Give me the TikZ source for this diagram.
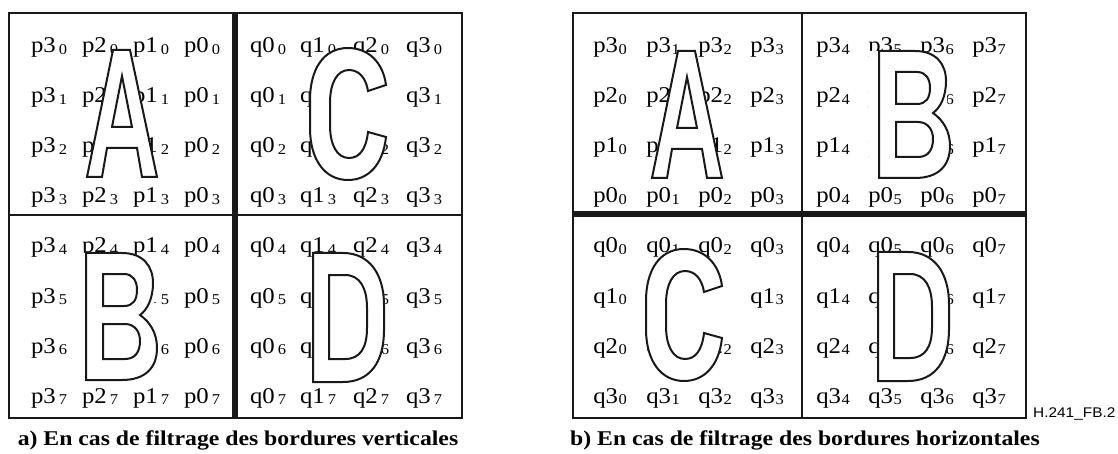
\documentclass[tikz,border=0pt]{standalone}
\usepackage{fontspec}
\setmainfont{Liberation Serif}
\newfontfamily\labfont[FakeStretch=1.1]{Liberation Serif}
\newfontfamily\capfont[FakeStretch=1.13]{Liberation Serif}
\newfontfamily\idfont[FakeStretch=1.1]{Liberation Sans}
\newcommand\pq[3]{#1\kern#3\raisebox{-1.5pt}{\fontsize{15}{15}\selectfont#2}}
\tikzset{
  lab/.style={inner sep=0pt, anchor=base, font=\labfont\fontsize{22.5}{24}\selectfont},
  captext/.style={inner sep=0pt, anchor=base, font=\capfont\bfseries\fontsize{21}{23}\selectfont},
  gridline/.style={line width=2.2pt, draw=black!90},
  thickdiv/.style={line width=6pt, draw=black!90},
  letter/.style={draw=black!90, line width=2pt, even odd rule, line join=miter},
  hull/.style={fill=white},
  pics/letA/.style={code={
    \fill[hull] (113,50) -- (130,50) -- (157,177) -- (87,177) -- cycle;
    \path[letter] (113,50) -- (130,50) -- (157,177) -- (142,177) -- (137,148) -- (107,148) -- (102,177) -- (87,177) -- cycle
      (122,76) -- (112,127) -- (132,127) -- cycle;
  }},
  pics/letB/.style={code={
    \fill[hull] (76,253) -- (122,253) .. controls (143,253) and (153,266) .. (153,283)
      -- (157,348)
      .. controls (157,368) and (145,380) .. (122,380) -- (76,380) -- cycle;
    \path[letter] (86,253) -- (122,253) .. controls (143,253) and (153,266) .. (153,283)
      .. controls (153,299) and (147,310) .. (140,315)
      .. controls (150,322) and (157,333) .. (157,348)
      .. controls (157,368) and (145,380) .. (122,380) -- (86,380) -- cycle
      (103,274) -- (124,274) .. controls (133,274) and (137,281) .. (137,290)
      .. controls (137,300) and (133,306) .. (124,306) -- (103,306) -- cycle
      (103,324) -- (125,324) .. controls (135,324) and (140,332) .. (140,341)
      .. controls (140,352) and (135,359) .. (125,359) -- (103,359) -- cycle;
  }},
  pics/letC/.style={code={
    \fill[hull] (386,85) .. controls (383,62) and (368,48) .. (348,48)
      .. controls (323,48) and (310,70) .. (310,100) -- (310,128)
      .. controls (310,160) and (325,180) .. (348,180)
      .. controls (368,180) and (383,165) .. (386,137) -- (398,137) -- (398,85) -- cycle;
    \path[letter] (386,85) .. controls (383,62) and (368,48) .. (348,48)
      .. controls (323,48) and (310,70) .. (310,100) -- (310,128)
      .. controls (310,160) and (325,180) .. (348,180)
      .. controls (368,180) and (383,165) .. (386,137) -- (368,132)
      .. controls (366,150) and (359,158) .. (349,158)
      .. controls (337,158) and (330,145) .. (330,125) -- (330,103)
      .. controls (330,83) and (337,70) .. (349,70)
      .. controls (359,70) and (366,78) .. (368,91) -- cycle;
  }},
  pics/letD/.style={code={
    \fill[hull] (313,253) -- (343,253) .. controls (370,253) and (384,275) .. (384,305) -- (384,330)
      .. controls (384,362) and (370,382) .. (343,382) -- (313,382) -- cycle;
    \path[letter] (313,253) -- (343,253) .. controls (370,253) and (384,275) .. (384,305) -- (384,330)
      .. controls (384,362) and (370,382) .. (343,382) -- (313,382) -- cycle
      (329,275) -- (345,275) .. controls (360,275) and (367,288) .. (367,308) -- (367,328)
      .. controls (367,348) and (360,359) .. (345,359) -- (329,359) -- cycle;
  }},
}
\begin{document}
\begin{tikzpicture}[x=1pt,y=-1pt]
\useasboundingbox (0,0) rectangle (1118,454);
\fill[white] (0,0) rectangle (1118,454);
% ---- left grid labels ----
\foreach \r in {0,...,3} {
  \foreach \c/\x in {3/49,2/100,1/151,0/202}
    \node[lab] (la-p\c-\r) at (\x,{53+50*\r}) {\pq{p\c}{\r}{3pt}};
  \foreach \c/\x in {0/268,1/318,2/371,3/424}
    \node[lab] (la-q\c-\r) at (\x,{53+50*\r}) {\pq{q\c}{\r}{3pt}};
}
\foreach \r in {4,...,7} {
  \foreach \c/\x in {3/49,2/100,1/151,0/202}
    \node[lab] (la-p\c-\r) at (\x,{253+50*(\r-4)}) {\pq{p\c}{\r}{3pt}};
  \foreach \c/\x in {0/268,1/318,2/371,3/424}
    \node[lab] (la-q\c-\r) at (\x,{253+50*(\r-4)}) {\pq{q\c}{\r}{3pt}};
}
% ---- right grid labels ----
\foreach \p/\y in {3/53,2/103,1/153,0/203} {
  \foreach \c/\x in {0/610,1/663,2/715,3/767}
    \node[lab] (lb-p\p-\c) at (\x,\y) {\pq{p\p}{\c}{0.5pt}};
  \foreach \c/\x in {4/833,5/885,6/937,7/989}
    \node[lab] (lb-p\p-\c) at (\x,\y) {\pq{p\p}{\c}{0.5pt}};
}
\foreach \p/\y in {0/253,1/303,2/353,3/403} {
  \foreach \c/\x in {0/610,1/663,2/715,3/767}
    \node[lab] (lb-q\p-\c) at (\x,\y) {\pq{q\p}{\c}{0.5pt}};
  \foreach \c/\x in {4/833,5/885,6/937,7/989}
    \node[lab] (lb-q\p-\c) at (\x,\y) {\pq{q\p}{\c}{0.5pt}};
}
% ---- letters ----
\pic at (0,0) {letA};
\pic at (0,0) {letB};
\pic at (0,0) {letC};
\pic at (0,0) {letD};
\pic at (565,1) {letA};
\pic at (793,-202) {letB};
\pic at (336,201) {letC};
\pic at (565,-1) {letD};
% ---- grids ----
\draw[gridline] (9,13) rectangle (462,418);
\draw[gridline] (9,215) -- (462,215);
\draw[thickdiv] (235,13) -- (235,418);
\draw[gridline] (573,13) rectangle (1026,418);
\draw[gridline] (802,13) -- (802,418);
\draw[thickdiv] (573,214) -- (1026,214);
% ---- captions ----
\node[captext] (capa) at (238,445) {a) En cas de filtrage des bordures verticales};
\node[captext] (capb) at (805,445) {b) En cas de filtrage des bordures horizontales};
\node[inner sep=0pt, anchor=base west, font=\idfont\fontsize{14}{16}\selectfont] (figid) at (1033,417) {H.241\_FB.2};
\end{tikzpicture}
\end{document}
